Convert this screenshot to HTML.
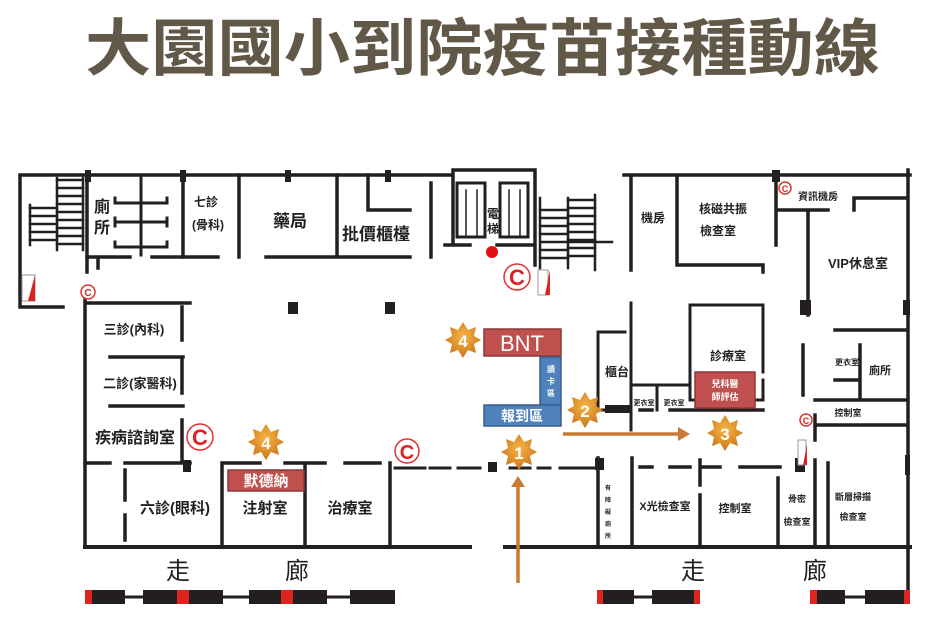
<!DOCTYPE html>
<html><head><meta charset="utf-8"><style>
html,body{margin:0;padding:0;background:#fff;width:932px;height:619px;overflow:hidden}
svg{display:block}
text{font-family:"Liberation Sans","Noto Sans CJK TC",sans-serif}
</style></head><body>
<svg width="932" height="619" viewBox="0 0 932 619" xmlns="http://www.w3.org/2000/svg">
<defs>
<radialGradient id="sg" cx="50%" cy="40%" r="60%"><stop offset="0" stop-color="#f7b545"/><stop offset="1" stop-color="#c9761a"/></radialGradient>
<g id="star"><polygon points="0,-18 5,-10 13,-13 11,-4 18,0 11,4 13,13 5,10 0,18 -5,10 -13,13 -11,4 -18,0 -11,-4 -13,-13 -5,-10" fill="url(#sg)"/></g>
</defs>
<text x="85" y="70" font-size="62" font-weight="bold" fill="#625848" textLength="795" lengthAdjust="spacingAndGlyphs">大園國小到院疫苗接種動線</text>

<g stroke="#231f20" stroke-width="3.5" fill="none" stroke-linecap="square">
<path d="M20,175 H451 M20,175 V307 H63"/>
<path d="M87,175 V272 M98,258 V268"/>
<path d="M87,257 H130 M152,257 H218"/>
<path d="M183,175 V257 M239,175 V257 M266,257 H410 M337,175 V257"/>
<path d="M368,175 V210 H410 M431,183 V257"/>
<path d="M57,178 V250 M83,178 V250 M30,205 V245" stroke-width="2.5"/>
<path d="M57,180 H83 M57,188 H83 M57,196 H83 M57,204 H83 M57,212 H83 M57,220 H83 M57,228 H83 M57,236 H83 M57,244 H83 M30,208 H57 M30,216 H57 M30,224 H57 M30,232 H57 M30,240 H57" stroke-width="2.5"/>
<path d="M115,198 V203 H167 V198 M115,222 H167 M115,218 V226 M167,218 V226 M115,242 V247 H167 V242 M141,178 V255" stroke-width="3"/>
<path d="M453,170 V245 M453,170 H535 M535,170 V265 M445,245 H470 M497,245 H535"/>
<rect x="457" y="183" width="28" height="54" stroke-width="3"/>
<rect x="500" y="183" width="28" height="54" stroke-width="3"/>
<path d="M466,190 V235 M477,190 V235 M509,190 V235 M520,190 V235" stroke-width="1.5"/>
<path d="M540,198 V268 M568,198 V268 M595,195 V270 M540,242 H612" stroke-width="2.5"/>
<path d="M568,200 H595 M568,208 H595 M568,216 H595 M568,224 H595 M568,232 H595 M568,240 H595 M568,248 H595 M568,256 H595 M540,210 H568 M540,218 H568 M540,226 H568 M540,234 H568 M540,250 H568 M540,258 H568" stroke-width="2.5"/>
<path d="M624,175 H910 M908,170 V600 M631,178 V270 M677,178 V265 H763 V272 M776,175 V245 M776,210 H828 M808,210 V315 M854,210 V198 H905"/>
<path d="M87,303 H190 M85,300 V547 M182,307 V340 M182,357 V393 M182,420 V460 M110,357 H183 M110,406 H183"/>
<path d="M85,463 H110 M125,463 H190 M222,463 H260 M285,463 H325 M345,463 H380 M125,470 V500 M125,515 V540 M222,463 V547 M305,463 V547 M390,463 V547"/>
<path d="M85,547 H470 M505,547 H910" stroke-width="4"/>
<path d="M395,468 H425 M430,468 H450 M458,468 H480 M510,468 H530 M538,468 H550 M560,468 H595" stroke-width="3"/>
<path d="M598,458 V547 M632,458 V547 M640,467 H652 M670,467 H690 M700,467 H720 M740,467 H780 M700,460 V485 M700,495 V547 M778,478 V547 M815,460 V547 M828,463 V547"/>
<path d="M631,303 V430 M598,332 H625 M598,332 V410 H631 M657,385 V410 M690,305 V400 H763 V380 M690,305 H763 V372 M631,385 H690 M690,410 H763" stroke-width="3"/>
<path d="M640,410 H652 M670,410 H763"/>
<path d="M835,330 H905 M860,345 V400 M803,345 V395 M815,400 H905 M815,425 H905 M815,415 V440 M835,380 H860"/>
</g>
<g fill="#231f20">
<rect x="288" y="302" width="10" height="12"/><rect x="385" y="302" width="10" height="12"/>
<rect x="85" y="170" width="6" height="12"/><rect x="180" y="170" width="6" height="12"/><rect x="285" y="170" width="6" height="12"/><rect x="385" y="170" width="6" height="12"/>
<rect x="488" y="462" width="9" height="10"/><rect x="595" y="458" width="9" height="12"/>
<rect x="772" y="170" width="8" height="12"/><rect x="800" y="300" width="11" height="15"/><rect x="903" y="300" width="7" height="15"/>
<rect x="183" y="460" width="8" height="12"/><rect x="795" y="458" width="10" height="14"/><rect x="605" y="405" width="25" height="8"/>
<rect x="905" y="455" width="5" height="20"/>
</g>
<g><rect x="22" y="275" width="13" height="26" fill="#fff" stroke="#999"/><path d="M35,275 L35,301 L28,301Z" fill="#d22"/>
<rect x="538" y="270" width="10" height="25" fill="#fff" stroke="#999"/><path d="M550,270 L550,295 L545,295Z" fill="#d22"/>
<rect x="798" y="440" width="8" height="25" fill="#fff" stroke="#999"/><path d="M807,445 L807,465 L803,465Z" fill="#d22"/></g>
<circle cx="492" cy="252" r="6" fill="#e01010"/>
<g fill="none" stroke="#d33" stroke-width="1.5">
<circle cx="88" cy="292" r="7"/><circle cx="200" cy="437" r="13"/><circle cx="407" cy="451" r="12"/><circle cx="517" cy="277" r="13"/><circle cx="785" cy="188" r="6"/><circle cx="806" cy="420" r="6"/></g>
<g fill="#d22" font-weight="bold" text-anchor="middle">
<text x="88" y="296" font-size="10">C</text><text x="200" y="445" font-size="22">C</text><text x="407" y="459" font-size="20">C</text><text x="517" y="285" font-size="22">C</text><text x="785" y="192" font-size="9">C</text><text x="806" y="424" font-size="9">C</text></g>

<g fill="#231f20" font-weight="bold" text-anchor="middle">
<text x="102" y="212" font-size="16">廁</text><text x="102" y="233" font-size="16">所</text>
<text x="206" y="206" font-size="12">七診</text><text x="208" y="229" font-size="12">(骨科)</text>
<text x="290" y="227" font-size="17">藥局</text>
<text x="376" y="240" font-size="17">批價櫃檯</text>
<text x="493" y="218" font-size="12">電</text><text x="493" y="233" font-size="12">梯</text>
<text x="653" y="222" font-size="12">機房</text>
<text x="723" y="213" font-size="12">核磁共振</text><text x="718" y="235" font-size="12">檢查室</text>
<text x="818" y="200" font-size="10">資訊機房</text>
<text x="858" y="268" font-size="13">VIP休息室</text>
<text x="134" y="334" font-size="13">三診(內科)</text>
<text x="140" y="388" font-size="13">二診(家醫科)</text>
<text x="135" y="443" font-size="16">疾病諮詢室</text>
<text x="728" y="360" font-size="12">診療室</text>
<text x="617" y="376" font-size="12">櫃台</text>
<text x="644" y="405" font-size="7">更衣室</text><text x="674" y="405" font-size="7">更衣室</text>
<text x="847" y="365" font-size="8">更衣室</text><text x="880" y="374" font-size="11">廁所</text>
<text x="848" y="416" font-size="9">控制室</text>
<text x="175" y="513" font-size="15">六診(眼科)</text>
<text x="265" y="513" font-size="15">注射室</text>
<text x="350" y="513" font-size="15">治療室</text>
<text x="665" y="510" font-size="11">X光檢查室</text>
<text x="735" y="512" font-size="11">控制室</text>
<text x="797" y="502" font-size="9">骨密</text><text x="797" y="525" font-size="9">檢查室</text>
<text x="853" y="500" font-size="9">斷層掃描</text><text x="853" y="520" font-size="9">檢查室</text>
<g font-size="6"><text x="608" y="490">有</text><text x="608" y="502">障</text><text x="608" y="514">礙</text><text x="608" y="526">廁</text><text x="608" y="538">所</text></g>
<g font-size="24" font-weight="normal"><text x="178" y="579">走</text><text x="297" y="579">廊</text><text x="693" y="579">走</text><text x="815" y="579">廊</text></g>
</g>

<g>
<path d="M85,597 H395 M597,597 H700 M810,597 H910" stroke="#231f20" stroke-width="3"/>
<g fill="#231f20">
<rect x="85" y="590" width="40" height="14"/><rect x="143" y="590" width="36" height="14"/><rect x="179" y="590" width="44" height="14"/><rect x="249" y="590" width="34" height="14"/><rect x="283" y="590" width="44" height="14"/><rect x="350" y="590" width="45" height="14"/>
<rect x="597" y="590" width="37" height="14"/><rect x="652" y="590" width="48" height="14"/>
<rect x="810" y="590" width="35" height="14"/><rect x="865" y="590" width="45" height="14"/></g>
<g fill="#e0231f"><rect x="85" y="590" width="7" height="14"/><rect x="177" y="590" width="12" height="14"/><rect x="281" y="590" width="12" height="14"/><rect x="597" y="590" width="6" height="14"/><rect x="694" y="590" width="6" height="14"/><rect x="810" y="590" width="7" height="14"/><rect x="904" y="590" width="6" height="14"/></g>
</g>

<g stroke="#c87a35" stroke-width="3.5" fill="#c87a35">
<line x1="518" y1="583" x2="518" y2="485"/><polygon points="511,487 525,487 518,476" stroke="none"/>
<line x1="563" y1="434" x2="680" y2="434"/><polygon points="678,427 678,441 690,434" stroke="none"/>
</g>

<rect x="484" y="329" width="77" height="27" fill="#c0504d" stroke="#8c3836" stroke-width="1.5"/>
<text x="522" y="351" font-size="22" fill="#fff" text-anchor="middle">BNT</text>
<rect x="540" y="357" width="21" height="48" fill="#4f81bd" stroke="#385d8a" stroke-width="1.5"/>
<g fill="#fff" font-size="8" font-weight="bold" text-anchor="middle"><text x="551" y="372">讀</text><text x="551" y="384">卡</text><text x="551" y="396">區</text></g>
<rect x="484" y="405" width="77" height="21" fill="#4f81bd" stroke="#385d8a" stroke-width="1.5"/>
<text x="522" y="421" font-size="14" fill="#fff" text-anchor="middle" font-weight="bold">報到區</text>
<rect x="695" y="372" width="60" height="36" fill="#c0504d" stroke="#8c3836" stroke-width="1.5"/>
<g fill="#fff" font-size="9" font-weight="bold" text-anchor="middle"><text x="725" y="387">兒科醫</text><text x="725" y="400">師評估</text></g>
<rect x="228" y="470" width="76" height="21" fill="#c0504d" stroke="#8c3836" stroke-width="1.5"/>
<text x="266" y="486" font-size="15" fill="#fff" text-anchor="middle" font-weight="bold">默德納</text>

<g font-family="Liberation Serif,serif" font-weight="bold" fill="#fff" text-anchor="middle" font-size="17">
<use href="#star" x="519" y="452"/><text x="519" y="459">1</text>
<use href="#star" x="585" y="410"/><text x="585" y="417">2</text>
<use href="#star" x="725" y="433"/><text x="725" y="440">3</text>
<use href="#star" x="463" y="340"/><text x="463" y="347">4</text>
<use href="#star" x="266" y="442"/><text x="266" y="449">4</text>
</g>
</svg>
</body></html>
